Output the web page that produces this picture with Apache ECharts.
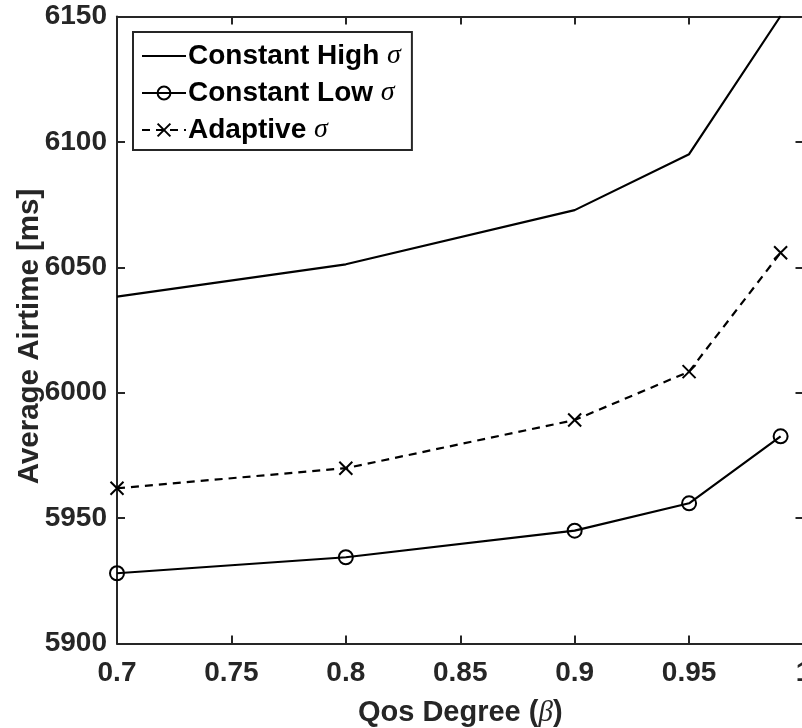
<!DOCTYPE html>
<html><head><meta charset="utf-8">
<script src="https://cdn.jsdelivr.net/npm/echarts@6/dist/echarts.min.js"></script>
<style>html,body{margin:0;padding:0;background:#fff}#c{width:802px;height:728px}</style>
</head><body><div id="c"></div>
<script>
const qosDegree = [0.7, 0.8, 0.9, 0.95, 0.99];
const constantHigh = [6038.3, 6051.2, 6072.8, 6095.1, 6150.2];
const constantLow = [5928.0, 5934.4, 5945.0, 5955.9, 5982.6];
const adaptive = [5961.9, 5969.9, 5989.1, 6008.4, 6055.8];
const seriesNames = ['Constant High', 'Constant Low', 'Adaptive'];
const xTicks = { min: 0.7, max: 1, interval: 0.05 };
const yTicks = { min: 5900, max: 6150, interval: 50 };

const AX = '#262626';
const FONT = '"Liberation Sans", Arial, sans-serif';
const SERIF = '"Liberation Serif", "DejaVu Serif", serif';
const pairs = arr => qosDegree.map((x, i) => [x, arr[i]]);
const crossPath = 'path://M0,0L10,10M10,0L0,10';

const baseAxis = {
  axisLine: { show: true, onZero: false, lineStyle: { color: AX, width: 2 } },
  axisTick: { show: true, inside: true, length: 8, lineStyle: { color: AX, width: 2 } },
  splitLine: { show: false }
};

const chart = echarts.init(document.getElementById('c'), null, { renderer: 'canvas' });
chart.setOption({
  animation: false,
  backgroundColor: '#fff',
  grid: { left: 117, top: 16.5, width: 686.5, height: 627, containLabel: false, outerBoundsMode: 'none' },
  xAxis: [
    Object.assign({}, baseAxis, {
      type: 'value', position: 'bottom', min: xTicks.min, max: xTicks.max, interval: xTicks.interval,
      axisLabel: { color: AX, fontFamily: FONT, fontWeight: 'bold', fontSize: 28, margin: 16,
        formatter: v => String(+v.toFixed(2)) },
      name: '{b|Qos Degree (}{s|β}{b|)}', nameLocation: 'middle', nameGap: 55, nameMoveOverlap: false,
      nameTextStyle: { rich: {
        b: { fontFamily: FONT, fontWeight: 'bold', fontSize: 29, color: AX },
        s: { fontFamily: SERIF, fontStyle: 'italic', fontSize: 29, color: AX }
      } }
    }),
    Object.assign({}, baseAxis, {
      type: 'value', position: 'top', min: xTicks.min, max: xTicks.max, interval: xTicks.interval,
      axisLabel: { show: false }
    })
  ],
  yAxis: [
    Object.assign({}, baseAxis, {
      type: 'value', position: 'left', min: yTicks.min, max: yTicks.max, interval: yTicks.interval,
      axisLabel: { color: AX, fontFamily: FONT, fontWeight: 'bold', fontSize: 28, margin: 10,
        formatter: v => String(v) },
      name: 'Average Airtime [ms]', nameLocation: 'middle', nameGap: 72, nameMoveOverlap: false,
      nameTextStyle: { fontFamily: FONT, fontWeight: 'bold', fontSize: 29.5, color: AX, padding: [0, 13, 0, 0] }
    }),
    Object.assign({}, baseAxis, {
      type: 'value', position: 'right', min: yTicks.min, max: yTicks.max, interval: yTicks.interval,
      axisLabel: { show: false }
    })
  ],
  legend: {
    orient: 'vertical', left: 133, top: 32,
    padding: [10, 11, 6, 8],
    backgroundColor: '#fff', borderColor: AX, borderWidth: 2, borderRadius: 0,
    itemWidth: 44, itemHeight: 16, itemGap: 9,
    data: seriesNames,
    formatter: n => '{b|' + n + ' }{s|σ}',
    textStyle: { padding: [0, 0, 0, -3], rich: {
      b: { fontFamily: FONT, fontWeight: 'bold', fontSize: 28, color: '#000' },
      s: { fontFamily: SERIF, fontStyle: 'italic', fontSize: 28, color: '#000' }
    } }
  },
  series: [
    { name: seriesNames[0], type: 'line', data: pairs(constantHigh), symbol: 'circle', showSymbol: false,
      lineStyle: { color: '#000', width: 2.2 },
      itemStyle: { color: 'rgba(0,0,0,0)', borderWidth: 0 } },
    { name: seriesNames[1], type: 'line', data: pairs(constantLow), symbol: 'circle', symbolSize: 14,
      lineStyle: { color: '#000', width: 2.2 },
      itemStyle: { color: 'rgba(255,255,255,0)', borderColor: '#000', borderWidth: 2 } },
    { name: seriesNames[2], type: 'line', data: pairs(adaptive), symbol: crossPath, symbolSize: 13,
      lineStyle: { color: '#000', width: 2.2, type: [8, 6] },
      itemStyle: { color: '#000', borderColor: '#000', borderWidth: 2 } }
  ]
});
</script>
</body></html>
